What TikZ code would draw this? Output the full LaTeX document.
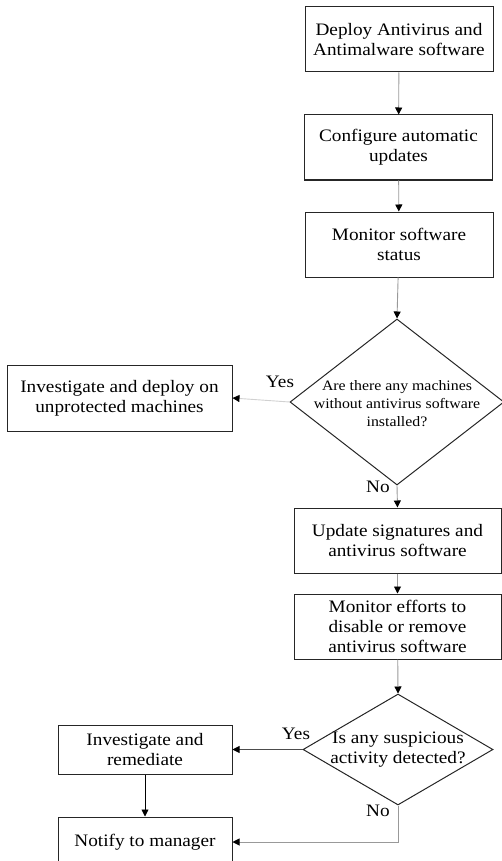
\documentclass[tikz,border=0pt]{standalone}
\usepackage{fontspec}
\setmainfont{Liberation Serif}[FakeStretch=1.1]
\usetikzlibrary{shapes.geometric,arrows.meta}

\tikzset{
  stepbox/.style={draw=black!85, line width=1pt, rectangle, inner sep=0pt,
    align=center, font=\fontsize{17.5}{20}\selectfont},
  decision/.style={draw=black!85, line width=1pt, diamond, inner sep=0pt},
  dtext/.style={align=center},
  tag/.style={font=\fontsize{17.5}{20}\selectfont, inner sep=0pt},
  flow/.style={draw=black!40, line width=0.9pt,
    -{Triangle[width=7pt,length=7pt,color=black]}},
  flowlight/.style={flow, draw=black!18},
  flowdark/.style={flow, draw=black!70},
}

\begin{document}
\begin{tikzpicture}[x=1pt,y=-1pt]
  \useasboundingbox (0,0) rectangle (502,861);

  % main column
  \node[stepbox, minimum width=188pt, minimum height=65pt] (deploy) at (399,39.5)
    {Deploy Antivirus and\\Antimalware software};
  \node[stepbox, minimum width=188pt, minimum height=65pt] (config) at (398.5,147.5)
    {Configure automatic\\updates};
  \node[stepbox, minimum width=188pt, minimum height=65pt] (monitor) at (399,244.5)
    {Monitor software\\status};

  \node[decision, minimum width=214pt, minimum height=166pt] (q1) at (397,402) {};
  \node[dtext, font=\fontsize{14.4}{18}\selectfont] (q1t) at (397,404)
    {Are there any machines\\without antivirus software\\installed?};

  \node[stepbox, minimum width=225pt, minimum height=66pt] (fix) at (119.5,398)
    {Investigate and deploy on\\unprotected machines};

  \node[stepbox, minimum width=207pt, minimum height=65pt] (update) at (397.5,540.5)
    {Update signatures and\\antivirus software};
  \node[stepbox, minimum width=207pt, minimum height=65pt] (watch) at (397.5,626.5)
    {Monitor efforts to\\disable or remove\\antivirus software};

  \node[decision, minimum width=190pt, minimum height=111pt] (q2) at (398,749.5) {};
  \node[dtext, font=\fontsize{17.5}{20}\selectfont] (q2t) at (398,749.5)
    {Is any suspicious\\activity detected?};

  \node[stepbox, minimum width=174pt, minimum height=49pt] (remed) at (145,749.5)
    {Investigate and\\remediate};
  \node[stepbox, minimum width=174pt, minimum height=50pt] (notify) at (145,842)
    {Notify to manager};

  % branch labels
  \node[tag] (yes1) at (280,382) {Yes};
  \node[tag] (no1) at (378,487) {No};
  \node[tag] (yes2) at (296,734) {Yes};
  \node[tag] (no2) at (378,811) {No};

  % connectors
  \draw[flow] (deploy) -- (config);
  \draw[flow] (config) -- (monitor);
  \draw[flow] (monitor) -- (q1.north);
  \draw[flowlight] (q1.west) -- (fix.east);
  \draw[flow] (q1.south) -- (update.north);
  \draw[flow] (update) -- (watch);
  \draw[flow] (watch) -- (q2.north);
  \draw[flowdark] (q2.west) -- (remed.east);
  \draw[flowdark, draw=black] (remed) -- (notify);
  \draw[flow] (q2.south) |- (notify.east);
\end{tikzpicture}
\end{document}
